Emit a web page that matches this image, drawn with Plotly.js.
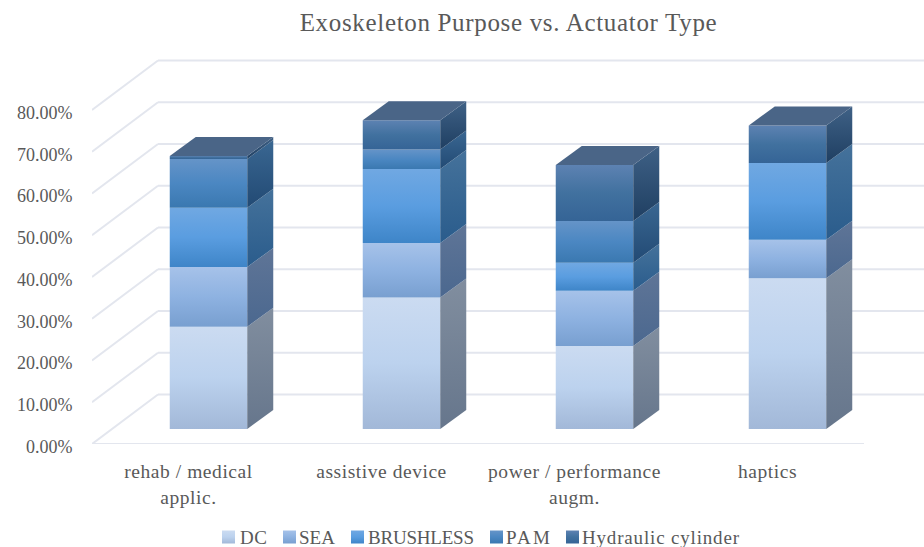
<!DOCTYPE html>
<html>
<head>
<meta charset="utf-8">
<script src="https://cdn.plot.ly/plotly-3.0.1.min.js"></script>
<style>html,body{margin:0;padding:0;background:#fff}</style>
</head>
<body>
<div id="chart" style="width:924px;height:547px"></div>
<script>
// ---- data (percent of papers) ----
const categories = ["rehab / medical<br>applic.", "assistive device", "power / performance<br>augm.", "haptics"];
const DC        = [24.5, 31.5, 19.9, 36.1];
const SEA       = [14.3, 13.05, 13.2, 9.2];
const BRUSHLESS = [14.2, 17.7, 6.7, 18.4];
const PAM       = [11.7, 4.7, 10.05, 0];
const HYDRAULIC = [0.7, 7.0, 13.4, 9.0];
const seriesNames = ["DC", "SEA", "BRUSHLESS", "PAM", "Hydraulic cylinder"];
const seriesValues = [DC, SEA, BRUSHLESS, PAM, HYDRAULIC];
const yTicks = [0, 10, 20, 30, 40, 50, 60, 70, 80];

// ---- styles ----
const frontGrad = [
  ["#cbdbf1", "#bcd2ee", "#a2b8d8"],
  ["#a6c2e9", "#8eb2e1", "#789fd0"],
  ["#70a8e2", "#5a9de0", "#3e85c8"],
  ["#6594c8", "#4b87c2", "#3a78b0"],
  ["#5d82b2", "#41719f", "#356496"]
];
const sideGrad = [
  ["#818e9f", "#66768c"],
  ["#5f7597", "#4b688f"],
  ["#45729b", "#2a5c8c"],
  ["#3a6792", "#224a74"],
  ["#3f6186", "#1f3f62"]
];
const topColor = "#4a6587";
const gridColor = "#e3e6ee";
const textColor = "#595959";
const fontFamily = "Liberation Serif";

// ---- oblique projection, pixels converted to data units ----
const pxX = 193, pxY = 4.175;
const wallDX = 66 / pxX, wallDY = 49.5 / pxY;      // front of floor -> back wall
const gapDX = 20 / pxX,  gapDY = 15 / pxY;         // front of floor -> front of bar
const depthDX = 26 / pxX, depthDY = 19 / pxY;      // bar depth
const barW = 77.5 / pxX;
const xIdx = categories.map((_, i) => i);

const traces = [];
// front faces: real bars
let cumulative = xIdx.map(() => gapDY);
seriesValues.forEach((vals, s) => {
  traces.push({
    type: "bar", name: seriesNames[s],
    x: xIdx.map(i => i + gapDX), y: vals, base: cumulative.slice(),
    width: barW, marker: {color: frontGrad[s][1], line: {width: 0}},
    hoverinfo: "skip"
  });
  cumulative = cumulative.map((b, i) => b + vals[i]);
});
// side and top faces
xIdx.forEach(i => {
  let b = gapDY;
  const r = i + gapDX + barW / 2, l = i + gapDX - barW / 2;
  seriesValues.forEach((vals, s) => {
    const v = vals[i];
    if (v > 0) {
      traces.push({
        type: "scatter", mode: "lines", showlegend: false, hoverinfo: "skip",
        x: [r, r + depthDX, r + depthDX, r, r],
        y: [b, b + depthDY, b + v + depthDY, b + v, b],
        fill: "toself", line: {width: 0},
        fillgradient: {type: "vertical", colorscale: [[0, sideGrad[s][1]], [1, sideGrad[s][0]]]}
      });
    }
    b += v;
  });
  traces.push({
    type: "scatter", mode: "lines", showlegend: false, hoverinfo: "skip",
    x: [l, r, r + depthDX, l + depthDX, l],
    y: [b, b, b + depthDY, b + depthDY, b],
    fill: "toself", line: {width: 0}, fillcolor: topColor
  });
});

// gridlines on the floor side and back wall, below the bars
const shapes = [];
const line = (x0, y0, x1, y1) => ({type: "line", layer: "below", xref: "x", yref: "y",
  x0, y0, x1, y1, line: {color: gridColor, width: 2}});
yTicks.forEach(t => {
  shapes.push(line(-0.5, t, -0.5 + wallDX, t + wallDY));
  shapes.push(line(-0.5 + wallDX, t + wallDY, 3.5 + wallDX, t + wallDY));
});
shapes.push(line(-0.5, 0, 3.5, 0));

const layout = {
  width: 924, height: 547,
  margin: {l: 92, r: 0, t: 50, b: 103},
  paper_bgcolor: "#fff", plot_bgcolor: "#fff",
  barmode: "overlay",
  title: {text: "Exoskeleton Purpose vs. Actuator Type",
    x: 508.5 / 924, xanchor: "center", y: 1 - 22 / 547, yanchor: "middle",
    font: {family: fontFamily, size: 25, color: textColor}},
  font: {family: fontFamily, size: 18, color: textColor},
  xaxis: {range: [-0.5, -0.5 + 832 / pxX], tickmode: "array", tickvals: xIdx, ticktext: categories,
    showgrid: false, zeroline: false, showline: false, ticks: "outside", ticklen: 10,
    tickcolor: "rgba(0,0,0,0)", tickfont: {family: fontFamily, size: 19.5, color: textColor}},
  yaxis: {range: [0, 394 / pxY], tickmode: "array", tickvals: yTicks,
    ticktext: yTicks.map(t => t.toFixed(2) + "%"),
    showgrid: false, zeroline: false, showline: false, ticks: "outside", ticklen: 15,
    tickcolor: "rgba(0,0,0,0)", tickfont: {family: fontFamily, size: 18, color: textColor}},
  shapes,
  showlegend: true,
  legend: {orientation: "h", x: 0, y: 0, xref: "paper", yref: "container", yanchor: "bottom",
    font: {family: fontFamily, size: 19, color: textColor}, bgcolor: "rgba(0,0,0,0)"}
};

// legend entry positions: swatch left edge, text left edge, text width
const legendSwatchX = [222, 283, 351, 490, 566];
const legendTextX   = [240, 299, 368, 506, 582];
const legendTextW   = [27, 36, 106, 44, 157];
const legendCenterY = 537;
const titleWidth = 417;
const yLabelNudge = 2.5;

function fit(el, target) {
  const n = el.textContent.length;
  el.style.letterSpacing = ((target - el.getComputedTextLength()) / (n - 1)) + "px";
}

Plotly.newPlot("chart", traces, layout, {displayModeBar: false, staticPlot: true}).then(gd => {
  const svg = gd.querySelector(".main-svg");
  const NS = "http://www.w3.org/2000/svg";
  const defs = svg.querySelector("defs");
  frontGrad.forEach((stops, s) => {
    const g = document.createElementNS(NS, "linearGradient");
    g.setAttribute("id", "front-" + s);
    g.setAttribute("x1", "0"); g.setAttribute("y1", "0");
    g.setAttribute("x2", "0"); g.setAttribute("y2", "1");
    stops.forEach((c, k) => {
      const st = document.createElementNS(NS, "stop");
      st.setAttribute("offset", String(k / (stops.length - 1)));
      st.setAttribute("stop-color", c);
      g.appendChild(st);
    });
    defs.appendChild(g);
  });
  gd.querySelectorAll(".barlayer .trace.bars").forEach((tr, s) => {
    tr.querySelectorAll("path").forEach(p => { p.style.fill = "url(#front-" + s + ")"; });
  });
  // text widths and small offsets
  const title = gd.querySelector(".gtitle");
  if (title) fit(title, titleWidth);
  gd.querySelectorAll(".xaxislayer-above .xtick text").forEach(t => { t.style.letterSpacing = "0.55px"; });
  gd.querySelectorAll(".yaxislayer-above .ytick text").forEach(t => {
    t.setAttribute("y", parseFloat(t.getAttribute("y")) + yLabelNudge);
  });
  // place legend entries
  const legend = gd.querySelector(".legend");
  const m = /translate\(\s*([-\d.]+)[ ,]+([-\d.]+)/.exec(legend.getAttribute("transform"));
  const ox = parseFloat(m[1]), oy = parseFloat(m[2]);
  legend.querySelectorAll(".traces").forEach((tr, s) => {
    tr.setAttribute("transform", "translate(" + (-ox) + "," + (legendCenterY - oy) + ")");
    const pt = tr.querySelector(".legendpoints");
    pt.setAttribute("transform", "translate(" + (legendSwatchX[s] + 6.5) + ",0)");
    const p = pt.querySelector("path");
    p.removeAttribute("transform");
    p.setAttribute("d", "M6.5,6.5H-6.5V-6.5H6.5Z");
    p.style.fill = "url(#front-" + s + ")";
    p.style.stroke = "none";
    const tx = tr.querySelector("text");
    tx.setAttribute("x", legendTextX[s]);
    tx.querySelectorAll("tspan").forEach(t => { if (t.getAttribute("x")) t.setAttribute("x", legendTextX[s]); });
    fit(tx, legendTextW[s]);
  });
  const bg = legend.querySelector(".legendbg");
  if (bg) bg.style.display = "none";
  const sc = legend.querySelector(".scrollbox");
  if (sc) { sc.removeAttribute("clip-path"); }
  legend.removeAttribute("clip-path");
});
</script>
</body>
</html>
